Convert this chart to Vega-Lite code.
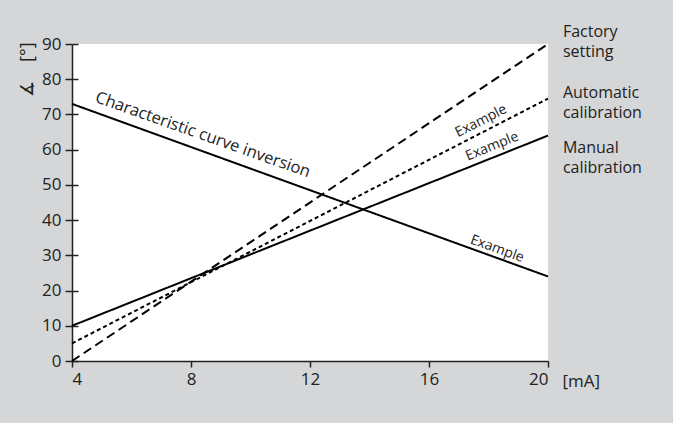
{
  "$schema": "https://vega.github.io/schema/vega-lite/v6.json",
  "width": 476,
  "height": 317,
  "autosize": {"type": "none"},
  "padding": {"left": 72, "top": 44, "right": 125, "bottom": 62},
  "background": "#d5d6d7",
  "config": {"view": {"fill": "white", "stroke": null}, "font": "Open Sans"},
  "datasets": {
    "lines": [
      {"series": "factory", "ma": 4, "deg": 0},
      {"series": "factory", "ma": 20, "deg": 90},
      {"series": "automatic", "ma": 4, "deg": 5},
      {"series": "automatic", "ma": 20, "deg": 74.5},
      {"series": "manual", "ma": 4, "deg": 10},
      {"series": "manual", "ma": 20, "deg": 64},
      {"series": "inversion", "ma": 4, "deg": 73},
      {"series": "inversion", "ma": 20, "deg": 24}
    ],
    "labels": [
      {"id": "inv_title", "label": "Characteristic curve inversion", "ma": 8.4, "deg": 64.2},
      {"id": "ex_auto", "label": "Example", "ma": 17.75, "deg": 68.1},
      {"id": "ex_manual", "label": "Example", "ma": 18.12, "deg": 60.9},
      {"id": "ex_inv", "label": "Example", "ma": 18.29, "deg": 31.8},
      {"id": "side", "label": "Factory\nsetting", "ma": 20.5, "deg": 93.4},
      {"id": "side", "label": "Automatic\ncalibration", "ma": 20.5, "deg": 76.0},
      {"id": "side", "label": "Manual\ncalibration", "ma": 20.5, "deg": 60.6}
    ]
  },
  "layer": [
    {
      "data": {"name": "lines"},
      "mark": {"type": "line", "color": "black", "strokeWidth": 2, "clip": false},
      "encoding": {
        "x": {
          "field": "ma", "type": "quantitative",
          "scale": {"domain": [4, 20], "nice": false, "zero": false},
          "axis": {
            "values": [4, 8, 12, 16, 20], "grid": false, "tickSize": 6, "tickWidth": 1.5,
            "domainWidth": 1.5, "domainColor": "#222", "tickColor": "#222",
            "labelFontSize": 17, "labelColor": "#222", "labelPadding": 4,
            "title": "[mA]", "titleX": 490, "titleY": 25, "titleAlign": "left",
            "titleBaseline": "alphabetic", "titleFontSize": 17, "titleFontWeight": "normal", "titleColor": "#222"
          }
        },
        "y": {
          "field": "deg", "type": "quantitative",
          "scale": {"domain": [0, 90], "nice": false},
          "axis": {
            "orient": "left",
            "values": [0, 10, 20, 30, 40, 50, 60, 70, 80, 90], "grid": false, "tickSize": 7, "tickWidth": 1.5,
            "domainWidth": 1.5, "domainColor": "#222", "tickColor": "#222",
            "labelFontSize": 17, "labelColor": "#222", "labelPadding": 4,
            "title": "∡\u00a0\u00a0\u00a0\u00a0[°]", "titleAngle": -90, "titleX": -45, "titleY": 25,
            "titleAlign": "center", "titleBaseline": "middle", "titleFontSize": 18,
            "titleFontWeight": "normal", "titleColor": "#222"
          }
        },
        "detail": {"field": "series", "type": "nominal"},
        "strokeDash": {
          "field": "series", "type": "nominal",
          "scale": {"domain": ["factory", "automatic", "manual", "inversion"], "range": [[9, 5], [4, 3], [1, 0], [1, 0]]},
          "legend": null
        }
      }
    },
    {
      "data": {"name": "lines"},
      "mark": {"type": "line", "opacity": 0},
      "encoding": {
        "x": {"field": "ma", "type": "quantitative"},
        "y": {
          "field": "deg", "type": "quantitative",
          "axis": {
            "orient": "left", "values": [0, 10, 20, 30, 40, 50, 60, 70, 80, 90],
            "tickSize": -6, "tickWidth": 1.5, "tickColor": "#222",
            "labels": false, "domain": false, "grid": false, "title": null
          }
        },
        "detail": {"field": "series", "type": "nominal"}
      }
    },
    {
      "data": {"name": "labels"},
      "transform": [{"filter": "datum.id == 'inv_title'"}],
      "mark": {"type": "text", "angle": 19.5, "fontSize": 16.5, "align": "center", "baseline": "middle", "color": "#222"},
      "encoding": {
        "x": {"field": "ma", "type": "quantitative"},
        "y": {"field": "deg", "type": "quantitative", "axis": null},
        "text": {"field": "label"}
      }
    },
    {
      "data": {"name": "labels"},
      "transform": [{"filter": "datum.id == 'ex_auto'"}],
      "mark": {"type": "text", "angle": -27, "fontSize": 14, "align": "center", "baseline": "middle", "color": "#222"},
      "encoding": {
        "x": {"field": "ma", "type": "quantitative"},
        "y": {"field": "deg", "type": "quantitative", "axis": null},
        "text": {"field": "label"}
      }
    },
    {
      "data": {"name": "labels"},
      "transform": [{"filter": "datum.id == 'ex_manual'"}],
      "mark": {"type": "text", "angle": -22, "fontSize": 14, "align": "center", "baseline": "middle", "color": "#222"},
      "encoding": {
        "x": {"field": "ma", "type": "quantitative"},
        "y": {"field": "deg", "type": "quantitative", "axis": null},
        "text": {"field": "label"}
      }
    },
    {
      "data": {"name": "labels"},
      "transform": [{"filter": "datum.id == 'ex_inv'"}],
      "mark": {"type": "text", "angle": 20, "fontSize": 14, "align": "center", "baseline": "middle", "color": "#222"},
      "encoding": {
        "x": {"field": "ma", "type": "quantitative"},
        "y": {"field": "deg", "type": "quantitative", "axis": null},
        "text": {"field": "label"}
      }
    },
    {
      "data": {"name": "labels"},
      "transform": [{"filter": "datum.id == 'side'"}],
      "mark": {"type": "text", "fontSize": 16, "align": "left", "baseline": "middle", "lineBreak": "\n", "lineHeight": 20, "color": "#222"},
      "encoding": {
        "x": {"field": "ma", "type": "quantitative"},
        "y": {"field": "deg", "type": "quantitative", "axis": null},
        "text": {"field": "label"}
      }
    }
  ],
  "resolve": {"axis": {"y": "independent"}}
}
